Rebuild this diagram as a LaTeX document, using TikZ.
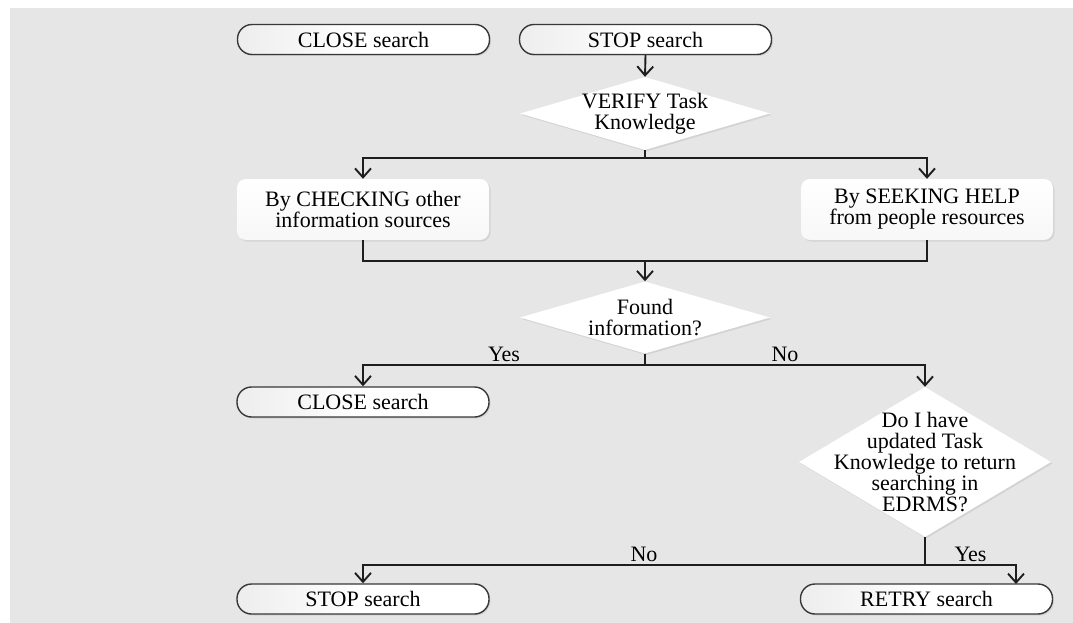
\documentclass[tikz,border=0pt]{standalone}
\usepackage{fontspec}
\setmainfont{Liberation Serif}
\usetikzlibrary{arrows.meta,shapes.geometric,shadows}
\definecolor{bg}{HTML}{E6E6E6}
\definecolor{ln}{HTML}{1E1E1E}
\definecolor{pillline}{HTML}{383838}
\begin{document}
\begin{tikzpicture}[x=1pt,y=-1pt,
  every node/.style={font=\fontsize{22}{21}\selectfont},
  shad/.style={drop shadow={shadow xshift=1.5pt,shadow yshift=-1.5pt,opacity=0.18}},
  pill/.style={shad,draw=pillline,line width=1.4pt,rounded corners=14.5pt,
    minimum width=252pt,minimum height=30pt,inner sep=2pt,
    left color=black!7,right color=white,middle color=white},
  box/.style={shad,rounded corners=9pt,minimum width=252pt,minimum height=61pt,
    align=center,inner sep=2pt,top color=white,bottom color=black!3},
  dia/.style={shad,diamond,fill=white,inner sep=0pt},
  txt/.style={align=center,inner sep=0pt},
  con/.style={line width=1.9pt,draw=ln},
  arr/.style={con,-{Straight Barb[length=9pt,width=16pt,line width=1.9pt]}},
  lab/.style={above,inner sep=2.5pt,text depth=0pt}
]
\useasboundingbox (0,0) rectangle (1073,623);
\fill[bg] (10,8) rectangle (1073,623);

% nodes
\node[pill] (closeA) at (363.5,39.5) {CLOSE search};
\node[pill] (stopA) at (645.5,39.5) {STOP search};
\node[dia,minimum width=250pt,minimum height=73pt,
  label={[txt]center:{VERIFY Task\\Knowledge}}] (verify) at (645,113.5) {};
\node[box] (check) at (363,209.5) {By CHECKING other\\information sources};
\node[box] (seek) at (927,209.5) {By SEEKING HELP\\from people resources};
\node[dia,minimum width=250pt,minimum height=72pt,
  label={[txt]center:{Found\\information?}}] (found) at (645,317.5) {};
\node[pill] (closeB) at (363,402) {CLOSE search};
\node[dia,minimum width=252pt,minimum height=150pt,
  label={[txt]center:{Do I have\\updated Task\\Knowledge to return\\searching in\\EDRMS?}}] (doi) at (925,462) {};
\node[pill] (stopB) at (363,599) {STOP search};
\node[pill] (retry) at (926.5,599) {RETRY search};

% junctions
\coordinate (j1) at (645,158);
\coordinate (j2) at (645,261);
\coordinate (j3) at (645,365);
\coordinate (j4) at (925,565);
\coordinate (rin) at (1016,584);

% connectors
\draw[arr] (stopA.south) -- (verify.north);
\draw[con] (verify.south) -- (j1);
\draw[arr] (j1) -| (check.north);
\draw[arr] (j1) -| (seek.north);
\draw[con] (check.south) |- (j2) -| (seek.south);
\draw[arr] (j2) -- (found.north);
\draw[con] (found.south) -- (j3);
\draw[arr] (j3) -| node[lab,pos=0.25] {Yes} (closeB.north);
\draw[arr] (j3) -| node[lab,pos=0.25] {No} (doi.north);
\draw[con] (doi.south) -- (j4);
\draw[arr] (j4) -| node[lab,pos=0.25] {No} (stopB.north);
\draw[arr] (j4) -| node[lab,pos=0.25] {Yes} (rin);
\end{tikzpicture}
\end{document}
